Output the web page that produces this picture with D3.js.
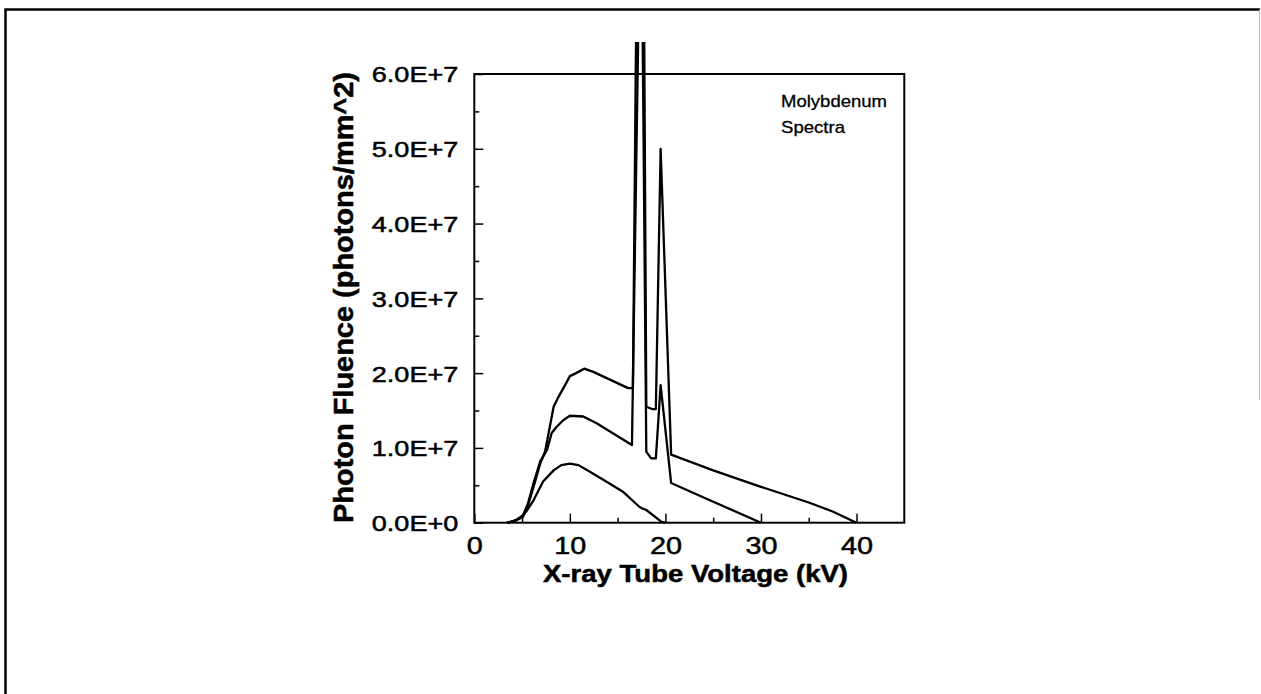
<!DOCTYPE html>
<html>
<head>
<meta charset="utf-8">
<script src="https://cdn.jsdelivr.net/npm/d3@7"></script>
<style>
  html, body { margin: 0; padding: 0; background: #fff; }
  svg { display: block; }
  text { font-family: "Liberation Sans", Arial, Helvetica, sans-serif; fill: #000; stroke: #000; stroke-width: 0.5px; }
</style>
</head>
<body>
<svg id="chart" width="1261" height="694"></svg>
<script>
// ---- Data (photon fluence in photons/mm^2 vs energy in kV) ----
const energy20 = [3.4, 4.2, 4.8, 5.5, 6.2, 7.2, 8.3, 9.1, 10.0, 10.9, 12.1, 13.8, 15.6, 17.3, 17.6, 18.0, 19.6, 20.0];
const fluence20 = [0, 0.02e7, 0.06e7, 0.16e7, 0.30e7, 0.55e7, 0.70e7, 0.77e7, 0.79e7, 0.77e7, 0.68e7, 0.55e7, 0.41e7, 0.21e7, 0.19e7, 0.17e7, 0.01e7, 0];

const energy30 = [3.5, 4.3, 5.1, 5.6, 6.2, 6.9, 7.6, 8.1, 8.6, 9.3, 10.0, 11.4, 12.8, 16.5, 17.45, 18.0, 18.5, 19.0, 19.5, 20.6, 24.3, 30.0];
const fluence30 = [0, 0.03e7, 0.10e7, 0.25e7, 0.53e7, 0.82e7, 0.97e7, 1.20e7, 1.28e7, 1.37e7, 1.43e7, 1.42e7, 1.33e7, 1.04e7, 9.0e7, 0.95e7, 0.86e7, 0.86e7, 1.84e7, 0.53e7, 0.32e7, 0];

const energy40 = [3.5, 4.3, 5.1, 5.6, 6.2, 6.9, 7.4, 7.9, 8.3, 8.8, 9.5, 10.0, 10.5, 11.5, 12.4, 16.1, 16.6, 17.45, 18.0, 18.6, 19.0, 19.5, 20.6, 25.0, 30.0, 35.0, 37.5, 40.0];
const fluence40 = [0, 0.03e7, 0.08e7, 0.22e7, 0.48e7, 0.79e7, 0.95e7, 1.28e7, 1.55e7, 1.68e7, 1.84e7, 1.96e7, 1.99e7, 2.06e7, 2.02e7, 1.80e7, 1.80e7, 14.0e7, 1.55e7, 1.52e7, 1.52e7, 5.0e7, 0.91e7, 0.70e7, 0.48e7, 0.27e7, 0.15e7, 0];

const xMajorTicks = [0, 10, 20, 30, 40];
const xMinorTicks = [5, 15, 25, 35];
const yMajorTicks = [0, 1e7, 2e7, 3e7, 4e7, 5e7, 6e7];
const yMinorTicks = [0.5e7, 1.5e7, 2.5e7, 3.5e7, 4.5e7, 5.5e7];
const yTickLabels = ["0.0E+0", "1.0E+7", "2.0E+7", "3.0E+7", "4.0E+7", "5.0E+7", "6.0E+7"];

const xTitle = "X-ray Tube Voltage (kV)";
const yTitle = "Photon Fluence (photons/mm^2)";
const noteLines = ["Molybdenum", "Spectra"];

// ---- Layout ----
const svg = d3.select("#chart");
const plotL = 474.3, plotR = 904.3, plotT = 74, plotB = 522.7;

const x = d3.scaleLinear().domain([0, 45]).range([plotL, plotR]);
const y = d3.scaleLinear().domain([0, 6e7]).range([plotB, plotT]);

// outer page frame
svg.append("path")
  .attr("d", `M5.5,694 L5.5,9.5 L1260,9.5`)
  .attr("fill", "none").attr("stroke", "#000").attr("stroke-width", 2.5);
svg.append("line")
  .attr("x1", 1259.5).attr("x2", 1259.5).attr("y1", 9.5).attr("y2", 400)
  .attr("stroke", "#bbb").attr("stroke-width", 1);

function stretch(sel, k) {
  sel.each(function () {
    const w = this.getComputedTextLength();
    this.setAttribute("textLength", w * k);
    this.setAttribute("lengthAdjust", "spacingAndGlyphs");
  });
}

// axes (ticks inward)
const xAxis = svg.append("g")
  .attr("transform", `translate(0,${plotB})`)
  .call(d3.axisBottom(x).tickValues(xMajorTicks).tickSize(-9).tickFormat(d3.format("d")));
xAxis.select(".domain").remove();
xAxis.selectAll("line").attr("stroke-width", 1.5);
xAxis.selectAll("text")
  .attr("y", 31).attr("dy", 0)
  .style("font-size", "24px");
stretch(xAxis.selectAll("text"), 1.2);

const xMinor = svg.append("g")
  .attr("transform", `translate(0,${plotB})`)
  .call(d3.axisBottom(x).tickValues(xMinorTicks).tickSize(-5).tickFormat(""));
xMinor.select(".domain").remove();
xMinor.selectAll("line").attr("stroke-width", 1.5);

const yAxis = svg.append("g")
  .attr("transform", `translate(${plotL},0)`)
  .call(d3.axisLeft(y).tickValues(yMajorTicks).tickSize(-9).tickPadding(16)
    .tickFormat((d, i) => yTickLabels[i]));
yAxis.select(".domain").remove();
yAxis.selectAll("line").attr("stroke-width", 1.5);
yAxis.selectAll("text")
  .attr("dy", "0.36em")
  .style("font-size", "22px");
stretch(yAxis.selectAll("text"), 1.23);

const yMinor = svg.append("g")
  .attr("transform", `translate(${plotL},0)`)
  .call(d3.axisLeft(y).tickValues(yMinorTicks).tickSize(-5).tickFormat(""));
yMinor.select(".domain").remove();
yMinor.selectAll("line").attr("stroke-width", 1.5);

// plot frame
svg.append("rect")
  .attr("x", plotL).attr("y", plotT)
  .attr("width", plotR - plotL).attr("height", plotB - plotT)
  .attr("fill", "none").attr("stroke", "#000").attr("stroke-width", 2);

// clip for spectra (peaks run past the frame top)
svg.append("clipPath").attr("id", "clip")
  .append("rect").attr("x", plotL).attr("y", 42)
  .attr("width", plotR - plotL).attr("height", plotB - 42 + 2);

const line = d3.line().x(d => x(d[0])).y(d => y(d[1]));
const series = [
  d3.zip(energy20, fluence20),
  d3.zip(energy30, fluence30),
  d3.zip(energy40, fluence40)
];
svg.append("g").attr("clip-path", "url(#clip)")
  .selectAll("path").data(series).join("path")
  .attr("d", line)
  .attr("fill", "none").attr("stroke", "#000")
  .attr("stroke-width", 2.3).attr("stroke-linejoin", "round");

// annotation
svg.append("g").selectAll("text").data(noteLines).join("text")
  .attr("x", 781).attr("y", (d, i) => 106.7 + i * 26)
  .style("font-size", "17px").style("stroke-width", "0.3px")
  .text(d => d)
  .each(function (d, i) {
    this.setAttribute("textLength", i === 0 ? 106 : 64);
    this.setAttribute("lengthAdjust", "spacingAndGlyphs");
  });

// axis titles
svg.append("text")
  .attr("x", 695.5).attr("y", 582)
  .attr("text-anchor", "middle")
  .style("font-size", "24px").style("font-weight", "bold")
  .attr("textLength", 305).attr("lengthAdjust", "spacingAndGlyphs")
  .text(xTitle);

svg.append("text")
  .attr("transform", `translate(353,297.5) rotate(-90)`)
  .attr("text-anchor", "middle")
  .style("font-size", "28px").style("font-weight", "bold")
  .attr("textLength", 451).attr("lengthAdjust", "spacingAndGlyphs")
  .text(yTitle);
</script>
</body>
</html>
